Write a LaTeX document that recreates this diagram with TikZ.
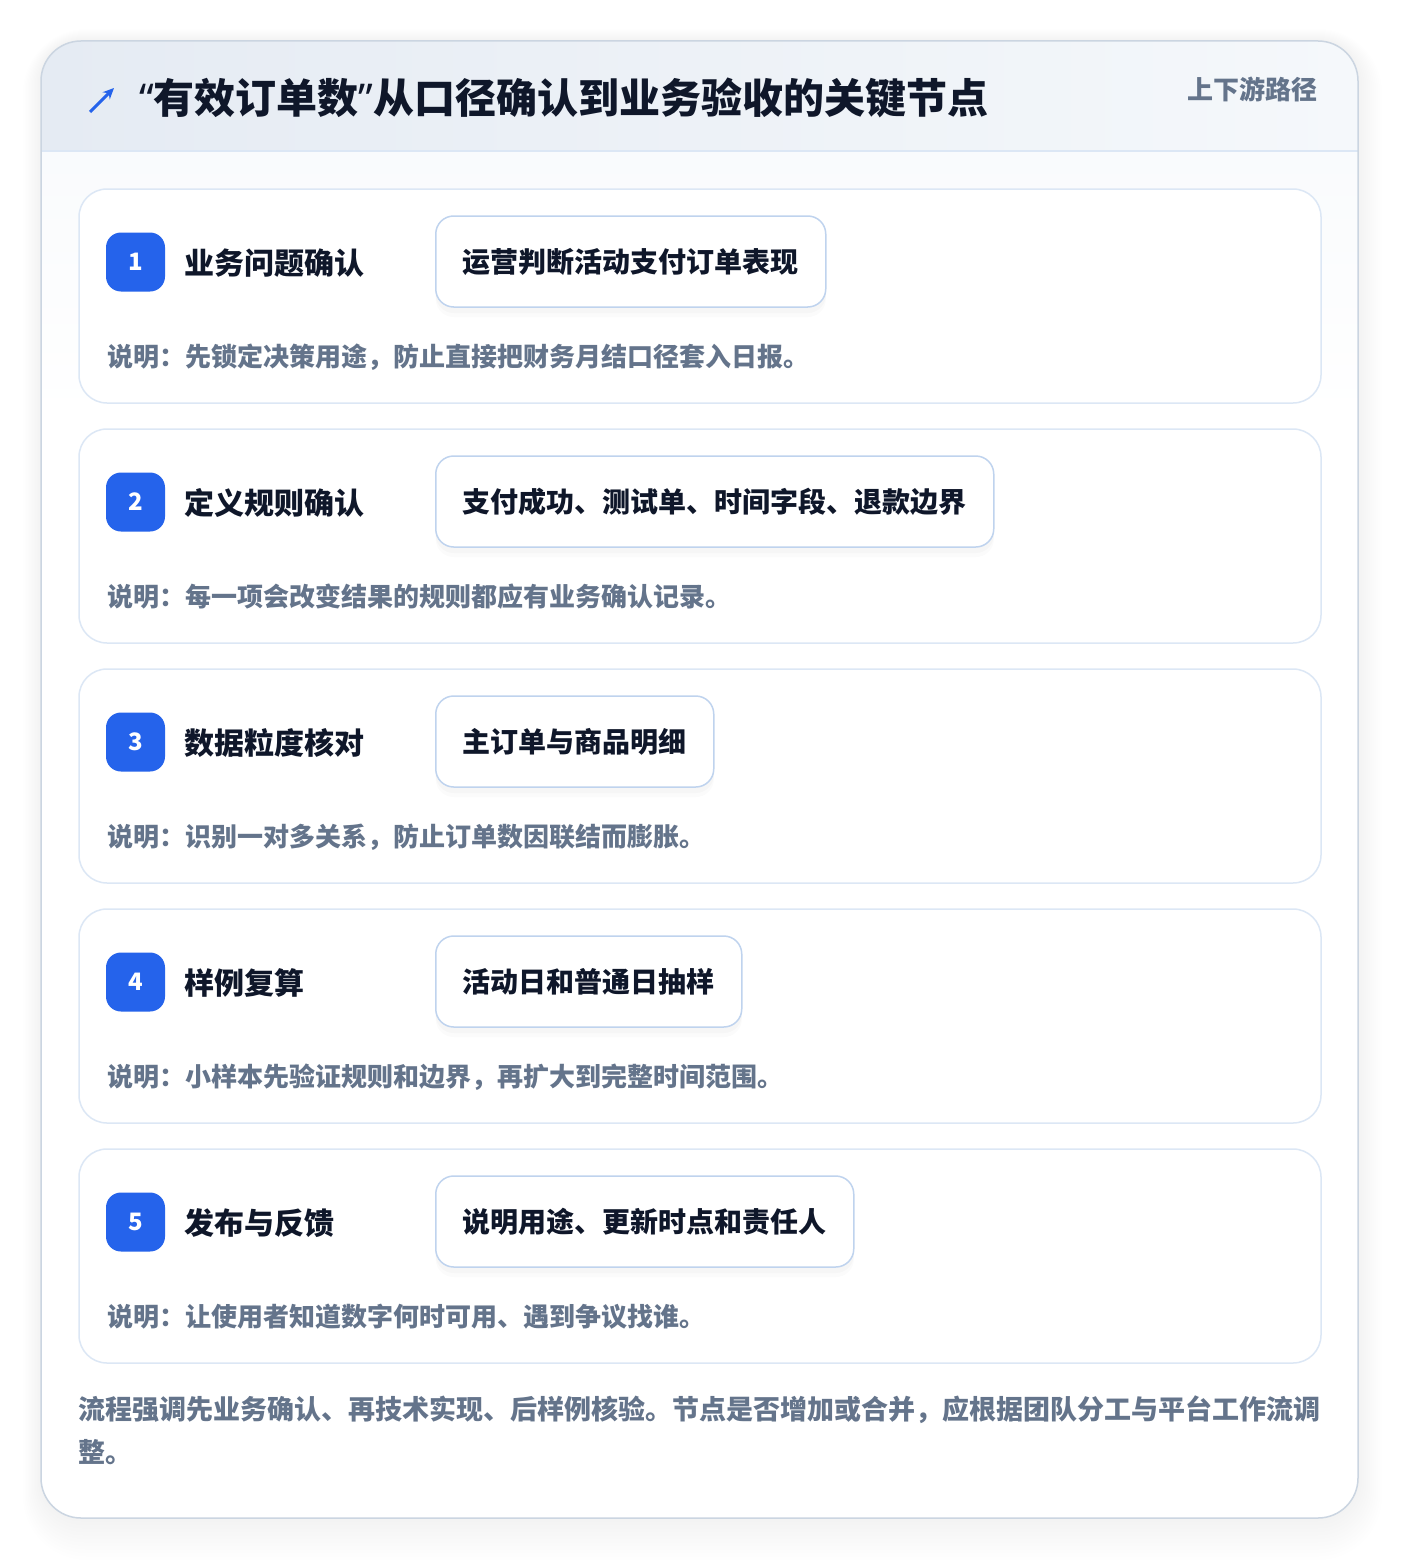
\documentclass[tikz,border=0pt]{standalone}
\usepackage{fontspec}
\setmainfont{Noto Sans CJK SC}
\newfontfamily\latinfont{Noto Sans}
\usepackage{xcolor}
\usetikzlibrary{arrows.meta,shadows}

\definecolor{ink}{HTML}{0F172A}
\definecolor{muted}{HTML}{64748B}
\definecolor{accent}{HTML}{2563EB}
\definecolor{cardline}{HTML}{DCE7F5}
\definecolor{boxline}{HTML}{BFD3EE}
\definecolor{frameline}{HTML}{CBD5E1}
\definecolor{headl}{HTML}{E5EBF3}
\definecolor{headr}{HTML}{F5F8FB}

\tikzset{
  card/.style={draw=cardline,line width=1.5pt,fill=white,rounded corners=28pt},
  badge/.style={fill=accent,rounded corners=15pt,minimum size=59pt,inner sep=0pt,
    text=white,font=\fontsize{24}{26}\selectfont\bfseries},
  steplabel/.style={anchor=west,inner sep=0pt,text=ink,font=\fontsize{30}{34}\selectfont\bfseries},
  tagbox/.style={draw=boxline,line width=1.5pt,fill=white,rounded corners=18pt,anchor=west,
    minimum height=91pt,inner xsep=27pt,text=ink,font=\fontsize{28}{32}\selectfont\bfseries,
    drop shadow={shadow xshift=0pt,shadow yshift=-10pt,opacity=.03},
    drop shadow={shadow xshift=0pt,shadow yshift=-6pt,opacity=.04}},
  note/.style={anchor=west,inner sep=0pt,text=muted,font=\fontsize{26}{30}\selectfont\bfseries},
}

\begin{document}
\begin{tikzpicture}[x=1pt,y=-1pt]
\useasboundingbox[fill=white] (0,0) rectangle (1400,1560);

% outer frame with soft shadow
\foreach\k in {1,...,12}{
  \fill[black,opacity=0.005,rounded corners=40pt+2*\k pt]
    (41-1.5*\k,41-1*\k) rectangle (1358+2*\k,1518+3.5*\k);}
\fill[white,rounded corners=40pt] (41,41) rectangle (1358,1518);
\begin{scope}
  \clip[rounded corners=40pt] (41,41) rectangle (1358,1518);
  \shade[left color=headl,right color=headr] (41,41) rectangle (1358,151);
  \shade[top color=headr!60!white,bottom color=white] (41,151) rectangle (1358,420);
  \draw[cardline,line width=1.5pt] (41,151)--(1358,151);
\end{scope}
\draw[frameline,line width=1.5pt,rounded corners=40pt] (41,41) rectangle (1358,1518);

% header
\draw[-{Stealth[length=11pt,width=10pt]},accent,line width=3pt] (90,112)--(114,88);
\node[anchor=west,inner sep=0pt,text=ink,font=\fontsize{41}{45}\selectfont\bfseries]
  (title) at (139,98) {{\latinfont“}有效订单数{\latinfont”}从口径确认到业务验收的关键节点};
\node[anchor=east,inner sep=0pt,text=muted,font=\fontsize{26}{30}\selectfont\bfseries]
  (route) at (1318,89) {上下游路径};

% steps
\foreach\i/\lab/\tag/\desc in {
  1/业务问题确认/运营判断活动支付订单表现/说明：先锁定决策用途，防止直接把财务月结口径套入日报。,
  2/定义规则确认/支付成功、测试单、时间字段、退款边界/说明：每一项会改变结果的规则都应有业务确认记录。,
  3/数据粒度核对/主订单与商品明细/说明：识别一对多关系，防止订单数因联结而膨胀。,
  4/样例复算/活动日和普通日抽样/说明：小样本先验证规则和边界，再扩大到完整时间范围。,
  5/发布与反馈/说明用途、更新时点和责任人/说明：让使用者知道数字何时可用、遇到争议找谁。}{
  \pgfmathsetmacro\T{189+240*(\i-1)}
  \draw[card] (79,\T) rectangle (1321,\T+214);
  \node[badge] (num\i) at (135.5,\T+73) {\i};
  \node[steplabel] (lab\i) at (184,\T+74) {\lab};
  \node[tagbox] (tag\i) at (435,\T+72.5) {\tag};
  \node[note] (desc\i) at (107,\T+168) {\desc};
}

% footer
\node[anchor=north west,inner sep=0pt,align=left,text=muted,
  font=\fontsize{27}{43}\selectfont\bfseries] (foot) at (78,1396)
  {流程强调先业务确认、再技术实现、后样例核验。节点是否增加或合并，应根据团队分工与平台工作流调\\整。};
\end{tikzpicture}
\end{document}
